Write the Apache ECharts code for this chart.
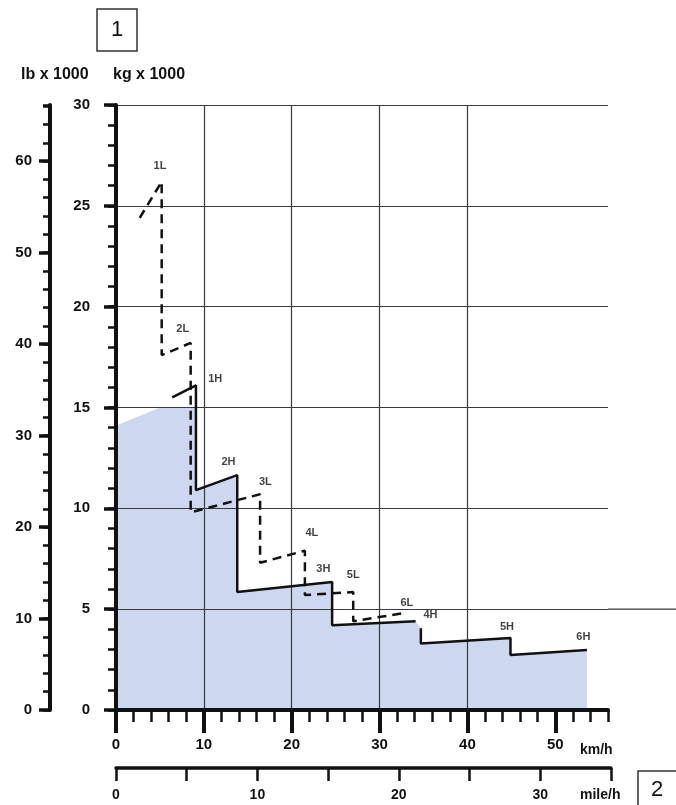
<!DOCTYPE html>
<html>
<head>
<meta charset="utf-8">
<script src="https://cdn.jsdelivr.net/npm/echarts@6/dist/echarts.min.js"></script>
<style>
  html, body { margin: 0; padding: 0; background: #fff; }
  #chart { width: 676px; height: 805px; }
</style>
</head>
<body>
<div id="chart"></div>
<script>
// values: [speed km/h, tractive force kg x 1000]
const highGears = [
  [6.4, 15.5], [9.1, 16.1], [9.1, 10.9], [13.8, 11.65], [13.8, 5.85],
  [24.6, 6.35], [24.6, 4.2], [34.1, 4.4], ["-", "-"], [34.7, 4.05],
  [34.7, 3.3], [44.9, 3.57], [44.9, 2.73], [53.6, 2.97],
];
const lowGears = [
  [2.7, 24.4], [5.2, 26.2], [5.2, 17.6], [8.5, 18.2], [8.5, 9.8],
  [16.4, 10.7], [16.4, 7.3], [21.5, 7.9], [21.5, 5.7], [27.0, 5.85],
  [27.0, 4.4], [32.7, 4.8],
];
const shadedEdge = [
  [0, 14.1], [5.0, 15.0], [9.1, 15.0], [9.1, 10.9], [13.8, 11.65],
  [13.8, 5.85], [24.6, 6.35], [24.6, 4.2], [34.1, 4.4], [34.7, 4.05],
  [34.7, 3.3], [44.9, 3.57], [44.9, 2.73], [53.6, 2.97], [53.6, 0],
];
const gearNames = ["1L", "2L", "1H", "2H", "3L", "4L", "3H", "5L", "6L", "4H", "5H", "6H"];
const gearLabelAt = [
  [5.0, 27.0], [7.6, 18.9], [11.3, 16.4], [12.8, 12.3], [17.0, 11.3], [22.3, 8.8],
  [23.6, 7.0], [27.0, 6.7], [33.1, 5.3], [35.8, 4.7], [44.5, 4.1], [53.2, 3.6],
];
const kmTicks = [0, 10, 20, 30, 40, 50];
const kgTicks = [0, 5, 10, 15, 20, 25, 30];
const lbTicks = [0, 10, 20, 30, 40, 50, 60];
const mileTicks = [0, 5, 10, 15, 20, 25, 30, 35];

const KM_MAX = 56;
const KG_MAX = 30;
const LB_MAX = KG_MAX * 2.20462;
const MILE_MAX = 35;
const KM_PER_MILE = 1.60934;

const gridLeft = 116;
const gridWidth = 492;
const mileWidth = (MILE_MAX * KM_PER_MILE / KM_MAX) * gridWidth;

const black = "#111";
const numFont = { fontSize: 15, fontWeight: "bold", color: black, fontFamily: "Liberation Sans, Arial, sans-serif" };
const gridLine = { color: "#3a3a3a", width: 1.2 };

const chartDiv = document.getElementById("chart");
const chart = echarts.init(chartDiv);

chart.setOption({
  animation: false,
  grid: [
    { left: gridLeft, top: 105, width: gridWidth, height: 605 },
    { left: gridLeft, top: 767, width: mileWidth, height: 1 },
  ],
  xAxis: [
    {
      // km/h, major ticks + labels + grid
      gridIndex: 0, type: "value", position: "bottom", min: 0, max: KM_MAX, interval: 10, z: 3,
      axisLine: { onZero: false, lineStyle: { color: black, width: 4 } },
      axisTick: { length: 23, customValues: kmTicks, lineStyle: { color: black, width: 4 } },
      axisLabel: Object.assign({ margin: 27, customValues: kmTicks }, numFont),
      splitLine: { show: true, showMinLine: false, showMaxLine: false, lineStyle: gridLine },
    },
    {
      // km/h, minor ticks
      gridIndex: 0, type: "value", position: "bottom", min: 0, max: KM_MAX, interval: 2, z: 3,
      axisLine: { show: false, onZero: false },
      axisTick: { length: 12, lineStyle: { color: black, width: 2.5 } },
      axisLabel: { show: false },
      splitLine: { show: false },
    },
    {
      // mile/h
      gridIndex: 1, type: "value", position: "bottom", min: 0, max: MILE_MAX, interval: 5, z: 3,
      axisLine: { onZero: false, lineStyle: { color: black, width: 3.5 } },
      axisTick: { length: 13, customValues: mileTicks, lineStyle: { color: black, width: 2.5 } },
      axisLabel: Object.assign({
        margin: 20,
        formatter: (v) => (v % 10 === 0 ? String(v) : ""),
      }, numFont, { fontSize: 14 }),
      splitLine: { show: false },
    },
  ],
  yAxis: [
    {
      // kg x 1000, major
      gridIndex: 0, type: "value", position: "left", offset: 0, min: 0, max: KG_MAX, interval: 5, z: 3,
      axisLine: { onZero: false, lineStyle: { color: black, width: 4 } },
      axisTick: { length: 12, customValues: kgTicks, lineStyle: { color: black, width: 3.5 } },
      axisLabel: Object.assign({ margin: 26, customValues: kgTicks }, numFont),
      splitLine: { show: true, showMinLine: false, lineStyle: gridLine },
    },
    {
      // kg x 1000, minor
      gridIndex: 0, type: "value", position: "left", offset: 0, min: 0, max: KG_MAX, interval: 1, z: 3,
      axisLine: { show: false, onZero: false },
      axisTick: { length: 8, lineStyle: { color: black, width: 2.5 } },
      axisLabel: { show: false },
      splitLine: { show: false },
    },
    {
      // lb x 1000, major
      gridIndex: 0, type: "value", position: "left", offset: 66, min: 0, max: LB_MAX, interval: 10, z: 3,
      axisLine: { onZero: false, lineStyle: { color: black, width: 4 } },
      axisTick: { length: 11, customValues: lbTicks, lineStyle: { color: black, width: 3.5 } },
      axisLabel: Object.assign({ margin: 18, customValues: lbTicks }, numFont),
      splitLine: { show: false },
    },
    {
      // lb x 1000, minor
      gridIndex: 0, type: "value", position: "left", offset: 66, min: 0, max: LB_MAX, interval: 2, z: 3,
      axisLine: { show: false, onZero: false },
      axisTick: { length: 7, lineStyle: { color: black, width: 2.5 } },
      axisLabel: { show: false },
      splitLine: { show: false },
    },
    { gridIndex: 1, type: "value", show: false },
  ],
  series: [
    {
      name: "shaded",
      type: "line",
      xAxisIndex: 0,
      yAxisIndex: 0,
      data: shadedEdge,
      symbol: "none",
      lineStyle: { width: 0 },
      areaStyle: { color: "#cdd8f0", opacity: 1 },
      z: 1,
    },
    {
      name: "H",
      type: "line",
      xAxisIndex: 0,
      yAxisIndex: 0,
      data: highGears,
      symbol: "none",
      connectNulls: false,
      lineStyle: { color: black, width: 2.5 },
      z: 5,
    },
    {
      name: "L",
      type: "line",
      xAxisIndex: 0,
      yAxisIndex: 0,
      data: lowGears,
      symbol: "none",
      lineStyle: { color: black, width: 2.5, type: [9, 6] },
      z: 5,
    },
    {
      name: "labels",
      type: "scatter",
      xAxisIndex: 0,
      yAxisIndex: 0,
      data: gearLabelAt.map((p, i) => ({ name: gearNames[i], value: p })),
      symbolSize: 0,
      label: {
        show: true,
        position: "inside",
        formatter: "{b}",
        fontSize: 11,
        fontWeight: "bold",
        color: black,
        fontFamily: "Liberation Sans, Arial, sans-serif",
      },
      z: 6,
    },
  ],
});

// 5 kg line runs on past the plot in the scan
const y5 = chart.convertToPixel({ yAxisIndex: 0 }, 5);
const titleFont = "bold 16px Liberation Sans, Arial, sans-serif";

chart.setOption({
  graphic: [
    { type: "line", shape: { x1: gridLeft + gridWidth, y1: y5, x2: 676, y2: y5 }, style: { stroke: "#3a3a3a", lineWidth: 1.2 } },
    { type: "rect", shape: { x: 97, y: 9, width: 40, height: 42 }, style: { fill: "#fff", stroke: "#333", lineWidth: 1.5 } },
    { type: "text", x: 117, y: 30, style: { text: "1", font: "22px Liberation Sans, Arial, sans-serif", fill: black, align: "center", verticalAlign: "middle" } },
    { type: "text", x: 21, y: 75, style: { text: "lb x 1000", font: titleFont, fill: black, verticalAlign: "middle" } },
    { type: "text", x: 113, y: 75, style: { text: "kg x 1000", font: titleFont, fill: black, verticalAlign: "middle" } },
    { type: "text", x: 580, y: 750, style: { text: "km/h", font: "bold 14px Liberation Sans, Arial, sans-serif", fill: black, verticalAlign: "middle" } },
    { type: "text", x: 580, y: 795, style: { text: "mile/h", font: "bold 14px Liberation Sans, Arial, sans-serif", fill: black, verticalAlign: "middle" } },
    { type: "rect", shape: { x: 638, y: 771, width: 40, height: 40 }, style: { fill: "#fff", stroke: "#333", lineWidth: 1.5 } },
    { type: "text", x: 657, y: 790, style: { text: "2", font: "22px Liberation Sans, Arial, sans-serif", fill: black, align: "center", verticalAlign: "middle" } },
  ],
});
</script>
</body>
</html>
